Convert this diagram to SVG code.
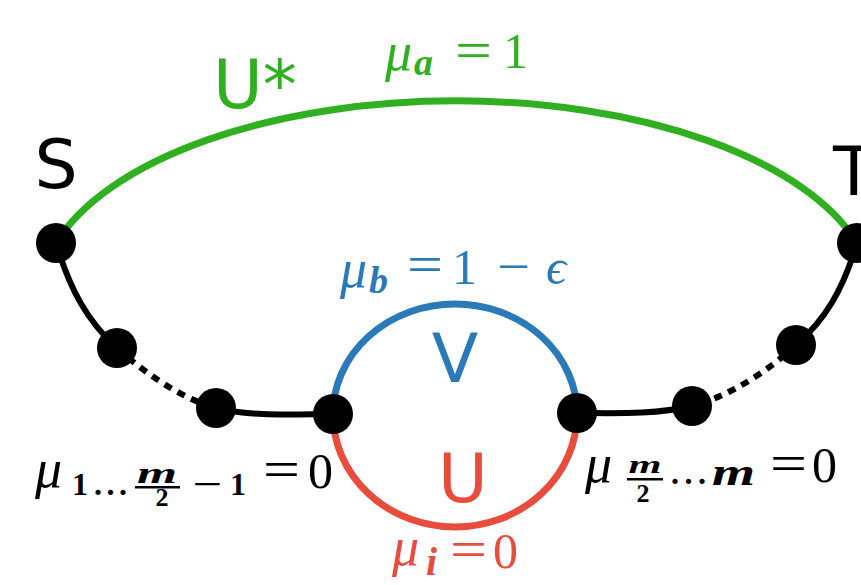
<svg xmlns="http://www.w3.org/2000/svg" width="861" height="585" viewBox="0 0 861 585">
<style>
.edge{fill:none;stroke-linecap:butt}
.blk{stroke:#000;stroke-width:6}
.dot{stroke-dasharray:8 7}
.node{fill:#000}
.lab{font-family:"DejaVu Sans",sans-serif}
.mi{font-family:"Liberation Serif",serif;font-style:italic}
.mb{font-family:"Liberation Serif",serif;font-style:italic;font-weight:bold}
.rb{font-family:"Liberation Serif",serif;font-weight:bold}
.r{font-family:"Liberation Serif",serif}
</style>
<rect width="861" height="585" fill="#fff"/>
<g id="connectors">
  <path class="edge" d="M56,243 A417,197 0 0 1 857,243" stroke="#30b020" stroke-width="7"/>
  <path class="edge" d="M333,414 A122,110 0 0 1 577,414" stroke="#2a7ab9" stroke-width="7"/>
  <path class="edge" d="M333,414 A122,113 0 0 0 577,414" stroke="#e84c3d" stroke-width="7"/>
  <path class="edge blk" d="M56,243 C70,290 88,322 117,348"/>
  <path class="edge blk dot" d="M117,348 C145,373 180,398 216,408"/>
  <path class="edge blk" d="M216,408 C250,417 300,414 333,414"/>
  <path class="edge blk" d="M857,243 C843,290 825,320 796,345"/>
  <path class="edge blk dot" d="M796,345 C768,371 730,396 692,406"/>
  <path class="edge blk" d="M692,406 C655,415 610,413 577,413"/>
</g>
<g id="node-S"><circle class="node" cx="56" cy="243" r="20"/><text class="lab" x="56" y="188" font-size="68" text-anchor="middle">S</text></g>
<g id="node-T"><circle class="node" cx="857" cy="243" r="20"/><text class="lab" x="833" y="195" font-size="68">T</text></g>
<g id="node-L1"><circle class="node" cx="117" cy="348" r="20"/></g>
<g id="node-L2"><circle class="node" cx="216" cy="408" r="20"/></g>
<g id="node-L3"><circle class="node" cx="333" cy="414" r="20"/></g>
<g id="node-R3"><circle class="node" cx="577" cy="413" r="20"/></g>
<g id="node-R2"><circle class="node" cx="692" cy="406" r="20"/></g>
<g id="node-R1"><circle class="node" cx="796" cy="345" r="20"/></g>
<g id="labels">
  <text class="lab" x="213" y="108" font-size="68" fill="#30b020">U*</text>
  <text class="lab" x="455" y="382" font-size="68" fill="#2a7ab9" text-anchor="middle">V</text>
  <text class="lab" x="463" y="502" font-size="68" fill="#e84c3d" text-anchor="middle">U</text>
  <g fill="#30b020">
    <text class="mi" x="385" y="70" font-size="54">μ</text>
    <text class="mb" x="414" y="75" font-size="38">a</text>
    <text class="r" x="455" y="68" font-size="52" textLength="37" lengthAdjust="spacingAndGlyphs">=</text>
    <text class="r" x="503" y="68" font-size="50">1</text>
  </g>
  <g fill="#2a7ab9">
    <text class="mi" x="340" y="287" font-size="54">μ</text>
    <text class="mb" x="369" y="293" font-size="38">b</text>
    <text class="r" x="407" y="282" font-size="52" textLength="36" lengthAdjust="spacingAndGlyphs">=</text>
    <text class="r" x="452" y="284" font-size="50">1</text>
    <text class="r" x="497" y="284" font-size="52" textLength="33" lengthAdjust="spacingAndGlyphs">−</text>
    <text class="mi" x="546" y="284" font-size="50">ϵ</text>
  </g>
  <g fill="#e84c3d">
    <text class="mi" x="392" y="565" font-size="54">μ</text>
    <text class="mb" x="426" y="575" font-size="40">i</text>
    <text class="r" x="450" y="567" font-size="52" textLength="37" lengthAdjust="spacingAndGlyphs">=</text>
    <text class="r" x="493" y="568" font-size="50">0</text>
  </g>
  <g fill="#000">
    <text class="mi" x="35" y="487" font-size="54">μ</text>
    <text class="rb" x="72" y="495" font-size="32">1</text>
    <text class="rb" x="94" y="495" font-size="32" textLength="33" lengthAdjust="spacing">...</text>
    <text class="mb" x="157" y="483" font-size="30" text-anchor="middle" textLength="40" lengthAdjust="spacingAndGlyphs">m</text>
    <rect x="135" y="486" width="45" height="2.5"/>
    <text class="rb" x="162" y="506" font-size="26" text-anchor="middle">2</text>
    <text class="rb" x="192" y="495" font-size="32" textLength="30" lengthAdjust="spacingAndGlyphs">−</text>
    <text class="rb" x="230" y="495" font-size="32">1</text>
    <text class="r" x="263" y="487" font-size="52" textLength="37" lengthAdjust="spacingAndGlyphs">=</text>
    <text class="r" x="308" y="488" font-size="50">0</text>
  </g>
  <g fill="#000">
    <text class="mi" x="585" y="482" font-size="54">μ</text>
    <text class="mb" x="645" y="473" font-size="26" text-anchor="middle" textLength="33" lengthAdjust="spacingAndGlyphs">m</text>
    <rect x="627" y="478" width="36" height="2.5"/>
    <text class="rb" x="643" y="502" font-size="26" text-anchor="middle">2</text>
    <text class="rb" x="671" y="484" font-size="32" textLength="35" lengthAdjust="spacing">...</text>
    <text class="mb" x="712" y="485" font-size="38" textLength="43" lengthAdjust="spacingAndGlyphs">m</text>
    <text class="r" x="770" y="481" font-size="52" textLength="37" lengthAdjust="spacingAndGlyphs">=</text>
    <text class="r" x="812" y="482" font-size="50">0</text>
  </g>
</g>
</svg>
